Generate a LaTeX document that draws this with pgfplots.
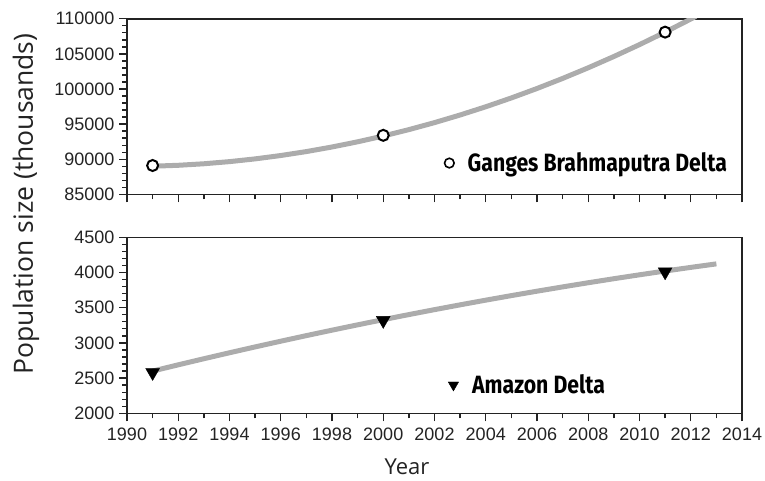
\documentclass[border=0pt]{standalone}
\usepackage{fontspec}
\usepackage{pgfplots}
\pgfplotsset{compat=1.18}
\setmainfont{Liberation Sans}
\newfontfamily\labfont{Open Sans}
\newfontfamily\legfont[FakeStretch=0.85]{Fira Sans}
\definecolor{curvegray}{RGB}{172,172,172}
\definecolor{axcol}{RGB}{35,35,35}

\pgfplotstableread{
x y
1991 89000
1992 89131
1993 89348
1994 89653
1995 90044
1996 90522
1997 91086
1998 91737
1999 92476
2000 93300
2001 94212
2002 95210
2003 96296
2004 97467
2005 98726
2006 100071
2007 101503
2008 103023
2009 104628
2010 106321
2011 108100
2012 109966
2012.2 110349
}\gangescurve

\pgfplotstableread{
x y
1991 89100
2000 93400
2011 108100
}\gangesdata

\pgfplotstableread{
x y
1991 2600
1992 2688.5
1993 2775.1
1994 2859.9
1995 2942.9
1996 3024.1
1997 3103.4
1998 3180.8
1999 3256.5
2000 3330.2
2001 3402.2
2002 3472.3
2003 3540.6
2004 3607.1
2005 3671.7
2006 3734.5
2007 3795.4
2008 3854.5
2009 3911.8
2010 3967.2
2011 4020.8
2012 4072.6
2013 4122.5
}\amazoncurve

\pgfplotstableread{
x y
1991 2580
2000 3320
2011 4010
}\amazondata

\pgfplotsset{
  panel/.style={
    scale only axis, width=615pt,
    xmin=1990, xmax=2014,
    xtick={1990,1992,1994,1996,1998,2000,2002,2004,2006,2008,2010,2012,2014},
    minor x tick num=1,
    scaled x ticks=false, scaled y ticks=false,
    tick align=outside, xtick pos=bottom, ytick pos=left,
    major tick length=8pt, minor tick length=5pt,
    tick style={axcol, line width=1.3pt},
    axis line style={axcol, line width=1.5pt},
    tick label style={font=\fontsize{18}{21}\selectfont, color=axcol,
      /pgf/number format/fixed, /pgf/number format/precision=0,
      /pgf/number format/set thousands separator={},
      /pgf/number format/assume math mode=true},
    xticklabel style={yshift=-3pt},
    yticklabel style={xshift=-1pt},
    clip mode=individual,
    legend style={draw=none, fill=none, inner sep=0pt, column sep=11.5pt,
      font=\legfont\bfseries\fontsize{25}{28}\selectfont, anchor=west},
    legend cell align=left,
  },
}

\begin{document}
\begin{tikzpicture}
\path[use as bounding box] (0pt,0pt) rectangle (765pt,481pt);

% top panel
\begin{axis}[panel, at={(127pt,286.7pt)}, anchor=south west, height=175.5pt,
  ymin=85000, ymax=110000, ytick={85000,90000,95000,100000,105000,110000}, minor y tick num=4,
  xticklabels={},
  legend style={at={(0.516,0.178)}}]
\addplot[curvegray, line width=5pt, forget plot] table[x=x,y=y] {\gangescurve};
\addplot[only marks, black, mark=*, mark options={fill=white}, mark size=5.5pt, line width=2pt, forget plot] table[x=x,y=y] {\gangesdata};
\addlegendimage{only marks, black, mark=*, mark options={fill=white}, mark size=4.8pt, line width=1.6pt}
\addlegendentry{Ganges Brahmaputra Delta}
\end{axis}

% bottom panel
\begin{axis}[panel, at={(127pt,67.7pt)}, anchor=south west, height=176pt,
  ymin=2000, ymax=4500, ytick={2000,2500,3000,3500,4000,4500}, minor y tick num=4,
  legend style={at={(0.522,0.161)}}]
\addplot[curvegray, line width=5pt, forget plot] table[x=x,y=y] {\amazoncurve};
\addplot[only marks, black, mark=triangle*, mark size=8pt, mark options={rotate=180}, forget plot] table[x=x,y=y] {\amazondata};
\addlegendimage{only marks, black, mark=triangle*, mark size=6pt, mark options={rotate=180}}
\addlegendentry{Amazon Delta}
\end{axis}

\node[rotate=90, font=\labfont\fontsize{26.5}{30}\selectfont, text=axcol] at (26pt,277pt) {Population size (thousands)};
\node[font=\labfont\fontsize{22}{26}\selectfont, text=axcol] at (407pt,14pt) {Year};
\end{tikzpicture}
\end{document}
